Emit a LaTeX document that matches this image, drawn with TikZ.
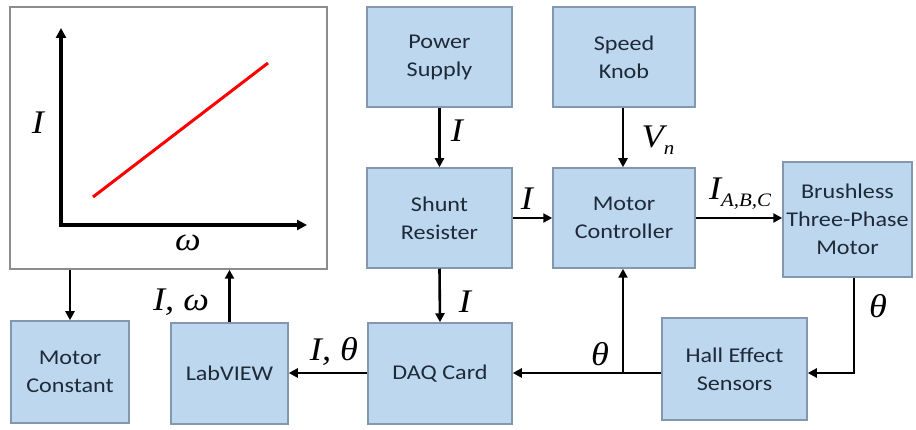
\documentclass[tikz,border=0pt]{standalone}
\usepackage{fontspec}
\setmainfont{Carlito}
\newfontfamily\boxfont[FakeStretch=1.15]{Carlito}
\newfontfamily\lblfont[FakeStretch=1.1]{Liberation Serif}
\usetikzlibrary{arrows.meta}
\definecolor{boxfill}{HTML}{BDD7EE}
\definecolor{boxline}{HTML}{8497B0}
\definecolor{boxtext}{HTML}{1E2A38}
\newcommand{\subtx}[1]{\raisebox{-7pt}{\fontsize{19}{20}\selectfont #1}}
\begin{document}
\begin{tikzpicture}[x=1pt,y=-1pt,
  blk/.style={draw=boxline,fill=boxfill,line width=1.5pt,align=center,
    text=boxtext,font=\boxfont\fontsize{21}{28}\selectfont,inner sep=0pt},
  conn/.style={line width=2.6pt,-{Triangle[length=9pt,width=9pt]}},
  lbl/.style={font=\lblfont\itshape\fontsize{33}{36}\selectfont,inner sep=0pt}]
\useasboundingbox (0,0) rectangle (916,430);
\fill[white] (0,0) rectangle (916,430);
% boxes
\node[blk,minimum width=145pt,minimum height=100pt] (ps) at (439.5,57) {Power\\Supply};
\node[blk,minimum width=142pt,minimum height=100pt] (knob) at (624,57) {Speed\\Knob};
\node[blk,minimum width=145pt,minimum height=100pt] (shunt) at (439.5,218) {Shunt\\Resister};
\node[blk,minimum width=142pt,minimum height=100pt] (mc) at (624,218) {Motor\\Controller};
\node[blk,minimum width=129pt,minimum height=115pt] (bl) at (847.5,219.5) {Brushless\\Three-Phase\\Motor};
\node[blk,minimum width=145pt,minimum height=102pt] (hall) at (734.5,369) {Hall Effect\\Sensors};
\node[blk,minimum width=144pt,minimum height=101pt] (daq) at (440,373.5) {DAQ Card};
\node[blk,minimum width=117pt,minimum height=101pt] (lab) at (229.5,373.5) {LabVIEW};
\node[blk,minimum width=118pt,minimum height=102pt] (mk) at (70,372) {Motor\\Constant};
\node[draw=gray!90,fill=white,line width=1.5pt,minimum width=317pt,minimum height=262pt,inner sep=0pt] (graph) at (168.5,138) {};
% graph contents
\coordinate (org) at (61,225);
\coordinate (ytop) at (61,28);
\coordinate (xend) at (307,225);
\draw[line width=3.5pt,-{Triangle[length=10pt,width=10pt]}] (org) -- (ytop);
\draw[line width=3.5pt,-{Triangle[length=10pt,width=10pt]}] ([xshift=-1.75pt]org) -- (xend);
\coordinate (r1) at (93,197);
\coordinate (r2) at (268,63);
\draw[red,line width=3pt] (r1) -- (r2);
\node[lbl] (gi) at (38,123) {I};
\node[lbl] (gw) at (188,243) {ω};
% connectors
\coordinate (jn) at (623,373);
\coordinate (bend) at (854,373);
\draw[conn] (ps.south) -- (shunt.north);
\draw[conn] (knob.south -| jn) -- (mc.north -| jn);
\draw[conn] (shunt.east) -- (mc.west);
\draw[conn] (mc.east) -- (bl.west |- mc.east);
\draw[conn] (bl.south -| bend) -- (bend) -- (hall.east |- bend);
\draw[conn] (hall.west |- jn) -- (daq.east |- jn);
\draw[conn] (jn) -- (mc.south -| jn);
\draw[conn] (shunt.south) -- (daq.north);
\draw[conn] (daq.west |- jn) -- (lab.east |- jn);
\draw[conn] (lab.north) -- (graph.south -| lab.north);
\draw[conn] (graph.south -| mk.north) -- (mk.north);
% labels
\node[lbl] (l1) at (457,131) {I};
\node[lbl] (l2) at (658,140) {V\subtx{n}};
\node[lbl] (l3) at (527,199) {I};
\node[lbl] (l4) at (740,194) {I\subtx{A,B,C}};
\node[lbl] (l5) at (878,306) {θ};
\node[lbl] (l6) at (600,354) {θ};
\node[lbl] (l7) at (465,302) {I};
\node[lbl] (l8) at (334,352) {I, θ};
\node[lbl] (l9) at (181,302) {I, ω};
\end{tikzpicture}
\end{document}
